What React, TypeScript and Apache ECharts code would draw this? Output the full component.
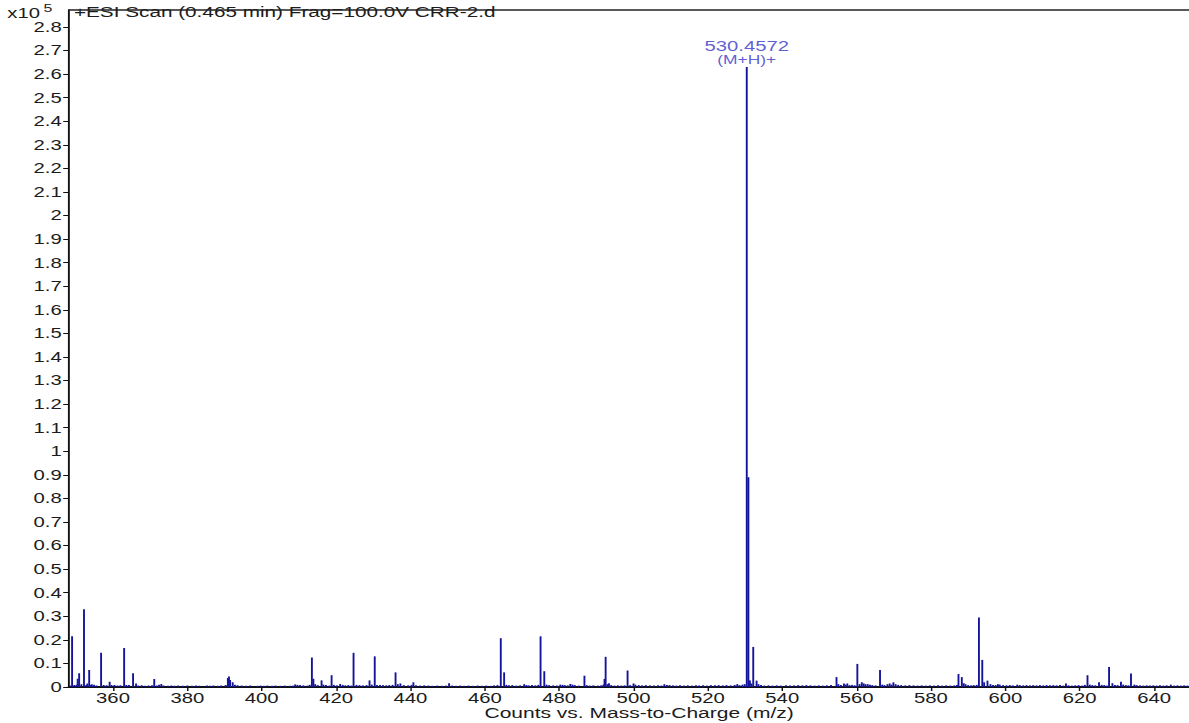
import React, { useEffect, useRef } from "react";
import * as echarts from "echarts";

// The instrument export is horizontally stretched; the chart is laid out
// narrow and widened with a CSS transform so text and strokes stretch alike.
const STRETCH = 1.45;
const PAGE_W = 1189;
const PAGE_H = 723;
const CHART_W = PAGE_W / STRETCH;

const TITLE = "+ESI Scan (0.465 min) Frag=100.0V CRR-2.d";
const X_NAME = "Counts vs. Mass-to-Charge (m/z)";
const Y_EXPONENT = "5";

const X_MIN = 348.17;
const X_MAX = 649.4;
const xTickValues = [
  360, 380, 400, 420, 440, 460, 480, 500, 520, 540, 560, 580, 600, 620, 640,
];
const Y_MAX = 2.872;
const Y_STEP = 0.1;
const Y_LAST_LABEL = 2.8;

// Labelled base peak
const basePeakMz = 530.4572;
const basePeakLabel = ["530.4572", "(M+H)+"];

// Centroid peaks: m/z and counts (x10^5)
const peakMz = [
  349.0, 350.5, 350.9, 352.2, 353.6, 354.3, 356.8, 359.1, 363.0, 365.4, 366.2,
  371.1, 373.0, 390.9, 391.2, 391.5, 392.2, 409.0, 413.5, 413.9, 416.1, 418.8,
  421.1, 424.7, 429.0, 430.4, 436.0, 437.3, 440.8, 450.4, 464.3, 465.2, 470.6,
  475.0, 476.0, 480.3, 483.0, 486.8, 492.2, 492.5, 493.4, 498.4, 500.0, 508.3,
  527.9, 530.4572, 530.9, 531.3, 532.2, 533.1, 554.6, 556.6, 557.5, 560.2,
  561.4, 563.0, 566.3, 568.3, 569.9, 587.4, 588.3, 588.8, 592.9, 593.8, 594.3,
  595.2, 598.0, 603.2, 616.3, 622.1, 625.2, 627.9, 628.8, 631.1, 633.8, 634.7,
  644.5,
];
const peakCounts = [
  0.215, 0.035, 0.058, 0.33, 0.072, 0.012, 0.145, 0.022, 0.165, 0.058, 0.015,
  0.034, 0.013, 0.038, 0.045, 0.03, 0.02, 0.011, 0.125, 0.035, 0.028, 0.05,
  0.013, 0.145, 0.028, 0.13, 0.062, 0.015, 0.02, 0.016, 0.207, 0.062, 0.012,
  0.215, 0.067, 0.01, 0.013, 0.048, 0.034, 0.128, 0.016, 0.07, 0.015, 0.012,
  0.012, 2.63, 0.89, 0.028, 0.17, 0.027, 0.042, 0.015, 0.015, 0.098,
  0.02, 0.012, 0.072, 0.012, 0.02, 0.055, 0.042, 0.016, 0.295, 0.115, 0.02,
  0.027, 0.012, 0.01, 0.015, 0.05, 0.02, 0.085, 0.016, 0.022, 0.057, 0.01,
  0.01,
];

// Low-level baseline signal: [m/z, counts x10^5]
const baselineNoise: [number, number][] = [
  [348.6, 0.006], [349.6, 0.008], [350.2, 0.01], [351.5, 0.012], [352.8, 0.009],
  [353.1, 0.015], [354.0, 0.008], [354.9, 0.01], [355.6, 0.006], [357.5, 0.008],
  [358.3, 0.007], [359.6, 0.009], [360.4, 0.008], [361.2, 0.006], [362.0, 0.007],
  [363.6, 0.009], [364.3, 0.008], [366.8, 0.006], [367.7, 0.007], [368.5, 0.005],
  [369.6, 0.006], [370.5, 0.007], [371.8, 0.006], [372.4, 0.01], [373.6, 0.006],
  [374.8, 0.005], [375.7, 0.006], [376.6, 0.005], [377.5, 0.006], [378.8, 0.005],
  [380.0, 0.006], [381.2, 0.005], [382.3, 0.006], [383.2, 0.005], [385.3, 0.006],
  [386.1, 0.005], [387.0, 0.006], [388.2, 0.005], [389.1, 0.006], [390.3, 0.008],
  [392.8, 0.01], [393.5, 0.007], [394.6, 0.006], [395.8, 0.005], [396.9, 0.006],
  [398.8, 0.005], [399.7, 0.006], [400.6, 0.005], [401.5, 0.006], [402.8, 0.005],
  [403.7, 0.006], [405.0, 0.005], [406.2, 0.006], [407.6, 0.005], [408.4, 0.006],
  [409.6, 0.009], [410.3, 0.008], [411.2, 0.007], [412.3, 0.006], [412.9, 0.009],
  [414.4, 0.012], [415.1, 0.008], [416.6, 0.01], [417.3, 0.008], [418.2, 0.006],
  [419.4, 0.009], [420.2, 0.007], [421.8, 0.009], [422.5, 0.007], [423.3, 0.008],
  [424.1, 0.006], [425.5, 0.009], [426.3, 0.008], [427.2, 0.007], [428.2, 0.008],
  [429.6, 0.01], [431.0, 0.008], [431.8, 0.009], [432.6, 0.008], [433.5, 0.007],
  [434.3, 0.008], [435.2, 0.009], [436.6, 0.012], [438.2, 0.008], [439.4, 0.007],
  [440.3, 0.009], [441.5, 0.007], [442.6, 0.006], [443.7, 0.007], [444.8, 0.006],
  [445.9, 0.005], [447.2, 0.006], [448.4, 0.005], [449.6, 0.006], [451.2, 0.006],
  [452.3, 0.005], [453.4, 0.006], [454.5, 0.005], [455.6, 0.006], [456.8, 0.005],
  [458.1, 0.006], [459.2, 0.005], [460.4, 0.006], [461.6, 0.005], [462.5, 0.007],
  [463.4, 0.008], [465.8, 0.009], [466.5, 0.007], [467.4, 0.008], [468.5, 0.006],
  [469.5, 0.007], [471.2, 0.008], [471.8, 0.007], [472.7, 0.008], [473.6, 0.007],
  [474.4, 0.009], [476.6, 0.01], [477.3, 0.008], [478.4, 0.007], [479.4, 0.006],
  [480.9, 0.009], [481.5, 0.008], [482.3, 0.007], [483.6, 0.01], [484.2, 0.008],
  [485.3, 0.006], [487.4, 0.008], [488.2, 0.006], [489.2, 0.007], [490.4, 0.006],
  [491.3, 0.007], [491.9, 0.01], [493.0, 0.012], [494.0, 0.008], [494.9, 0.006],
  [495.8, 0.007], [496.7, 0.006], [497.6, 0.007], [499.1, 0.008], [500.5, 0.01],
  [501.4, 0.008], [502.3, 0.007], [503.3, 0.008], [504.4, 0.007], [505.5, 0.006],
  [506.6, 0.007], [507.5, 0.006], [509.0, 0.009], [509.7, 0.008], [510.6, 0.007],
  [511.5, 0.006], [512.5, 0.007], [513.6, 0.006], [514.6, 0.007], [515.7, 0.006],
  [516.8, 0.007], [517.6, 0.006], [518.7, 0.007], [519.7, 0.006], [520.8, 0.008],
  [521.9, 0.007], [522.9, 0.008], [524.0, 0.007], [525.0, 0.008], [526.1, 0.007],
  [527.2, 0.009], [528.5, 0.008], [529.3, 0.01], [529.9, 0.012], [531.7, 0.015],
  [533.6, 0.012], [534.3, 0.008], [535.2, 0.006], [536.3, 0.007], [537.4, 0.006],
  [538.5, 0.007], [539.6, 0.006], [541.0, 0.007], [542.1, 0.006], [543.2, 0.007],
  [544.3, 0.008], [545.4, 0.007], [546.5, 0.008], [547.6, 0.007], [548.7, 0.006],
  [549.8, 0.007], [550.9, 0.006], [552.0, 0.007], [553.1, 0.008], [555.1, 0.012],
  [555.8, 0.009], [557.0, 0.01], [558.1, 0.008], [558.8, 0.009], [559.5, 0.007],
  [560.8, 0.012], [561.9, 0.015], [562.4, 0.012], [563.6, 0.01], [564.2, 0.008],
  [565.1, 0.007], [566.9, 0.01], [567.5, 0.008], [568.9, 0.015], [569.4, 0.01],
  [570.5, 0.012], [571.2, 0.009], [572.0, 0.008], [573.1, 0.007], [574.2, 0.008],
  [575.3, 0.007], [576.4, 0.006], [577.5, 0.007], [578.6, 0.006], [579.7, 0.007],
  [580.8, 0.006], [581.9, 0.007], [583.0, 0.006], [584.1, 0.007], [585.2, 0.006],
  [586.3, 0.007], [587.0, 0.008], [589.3, 0.012], [590.0, 0.008], [590.8, 0.007],
  [591.5, 0.008], [592.3, 0.009], [596.0, 0.012], [596.7, 0.009], [597.4, 0.008],
  [598.5, 0.01], [599.4, 0.008], [600.3, 0.007], [601.2, 0.008], [602.0, 0.007],
  [603.9, 0.008], [604.8, 0.007], [605.7, 0.008], [606.6, 0.007], [607.5, 0.008],
  [608.4, 0.007], [609.3, 0.008], [610.2, 0.007], [611.1, 0.008], [612.0, 0.007],
  [612.9, 0.008], [613.8, 0.007], [614.7, 0.008], [615.6, 0.006], [617.0, 0.007],
  [617.9, 0.006], [618.8, 0.007], [619.7, 0.008], [620.6, 0.006], [621.4, 0.009],
  [622.7, 0.01], [623.4, 0.008], [624.2, 0.007], [625.9, 0.009], [626.6, 0.008],
  [627.3, 0.006], [629.5, 0.009], [630.2, 0.008], [631.7, 0.01], [632.4, 0.008],
  [633.1, 0.007], [635.3, 0.008], [636.2, 0.007], [637.1, 0.006], [638.0, 0.007],
  [638.9, 0.006], [639.8, 0.007], [640.7, 0.006], [641.6, 0.007], [642.5, 0.006],
  [643.4, 0.007], [645.4, 0.006], [646.3, 0.007], [647.2, 0.006], [648.1, 0.007],
  [649.0, 0.006],
];

const STICK_COLOR = "#14149a";
const LABEL_COLOR = "#3434c8";
const TEXT_COLOR = "#1c1c1c";
const FONT = "'Liberation Sans', Arial, sans-serif";

export default function App() {
  const ref = useRef<HTMLDivElement>(null);

  useEffect(() => {
    document.body.style.margin = "0";
    if (!ref.current) return;
    const chart = echarts.init(ref.current, undefined, { renderer: "svg" });

    const sticks = [
      ...baselineNoise.map(([mz, c]) => [mz, c]),
      ...peakMz.map((mz, i) => [mz, peakCounts[i]]),
    ];
    const baseIdx = peakMz.indexOf(basePeakMz);

    const onStep = (v: number, step: number) =>
      Math.abs(v / step - Math.round(v / step)) < 1e-6;

    chart.setOption({
      animation: false,
      grid: {
        left: 69 / STRETCH,
        right: 0,
        top: 10,
        bottom: 36,
        outerBoundsMode: "none",
        containLabel: false,
      },
      xAxis: [
        {
          type: "value",
          min: X_MIN,
          max: X_MAX,
          name: X_NAME,
          nameLocation: "middle",
          nameGap: 19,
          nameMoveOverlap: false,
          nameTextStyle: {
            color: TEXT_COLOR,
            fontFamily: FONT,
            fontSize: 14.5,
            lineHeight: 15,
            verticalAlign: "top",
            padding: [0, 0, 0, 14],
          },
          axisLine: { lineStyle: { color: "#111", width: 2 } },
          axisTick: {
            show: true,
            length: 4,
            customValues: xTickValues,
            lineStyle: { color: "#111", width: 1 },
          },
          axisLabel: {
            color: TEXT_COLOR,
            fontFamily: FONT,
            fontSize: 14,
            lineHeight: 15,
            margin: 4,
            customValues: xTickValues,
          },
          splitLine: { show: false },
        },
        {
          type: "value",
          position: "top",
          min: X_MIN,
          max: X_MAX,
          axisLine: { show: true, lineStyle: { color: "#222", width: 1.5 } },
          axisTick: { show: false },
          axisLabel: { show: false },
          splitLine: { show: false },
        },
      ],
      yAxis: {
        type: "value",
        min: 0,
        max: Y_MAX,
        interval: Y_STEP,
        axisLine: { show: true, lineStyle: { color: "#111", width: 1.3 } },
        axisTick: {
          show: true,
          length: 4,
          lineStyle: { color: "#111", width: 1 },
        },
        axisLabel: {
          color: TEXT_COLOR,
          fontFamily: FONT,
          fontSize: 14,
          margin: 5,
          showMaxLabel: false,
          formatter: (v: number) =>
            onStep(v, Y_STEP) && v <= Y_LAST_LABEL + 1e-9
              ? String(Math.round(v * 10) / 10)
              : "",
        },
        splitLine: { show: false },
      },
      graphic: [
        {
          type: "text",
          left: 5,
          top: 6,
          style: {
            text: "x10",
            fill: TEXT_COLOR,
            font: `14px ${FONT}`,
          },
        },
        {
          type: "text",
          left: 30,
          top: 3,
          style: {
            text: Y_EXPONENT,
            fill: TEXT_COLOR,
            font: `11px ${FONT}`,
          },
        },
        {
          type: "text",
          left: 51,
          top: 5,
          style: {
            text: TITLE,
            fill: TEXT_COLOR,
            font: `14.3px ${FONT}`,
          },
        },
      ],
      series: [
        {
          type: "custom",
          xAxisIndex: 0,
          clip: true,
          data: sticks,
          renderItem: (_params: any, api: any) => {
            const mz = api.value(0);
            const c = api.value(1);
            const top = api.coord([mz, c]);
            const base = api.coord([mz, 0]);
            return {
              type: "line",
              shape: { x1: top[0], y1: top[1], x2: base[0], y2: base[1] },
              style: { stroke: STICK_COLOR, lineWidth: 1.3 },
            };
          },
        },
        {
          type: "scatter",
          xAxisIndex: 0,
          symbolSize: 0,
          data: [[basePeakMz, peakCounts[baseIdx]]],
          label: {
            show: true,
            position: "top",
            distance: 1,
            formatter: `{a|${basePeakLabel[0]}}\n{b|${basePeakLabel[1]}}`,
            rich: {
              a: {
                color: LABEL_COLOR,
                fontFamily: FONT,
                fontSize: 14,
                lineHeight: 14,
                align: "center",
              },
              b: {
                color: LABEL_COLOR,
                fontFamily: FONT,
                fontSize: 12,
                lineHeight: 13,
                align: "center",
              },
            },
          },
        },
      ],
    });

    return () => chart.dispose();
  }, []);

  return (
    <div
      ref={ref}
      style={{
        width: CHART_W,
        height: PAGE_H,
        transform: `scaleX(${STRETCH})`,
        transformOrigin: "0 0",
      }}
    />
  );
}
